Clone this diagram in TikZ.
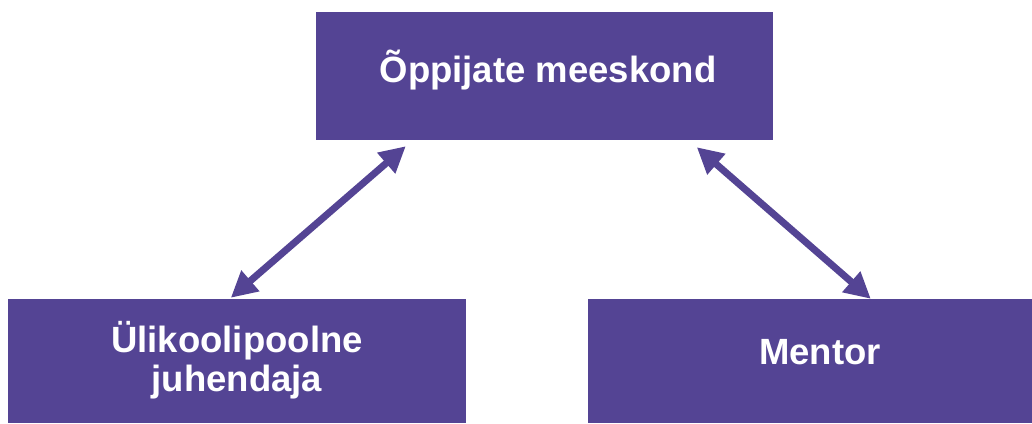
\documentclass[tikz,border=0pt]{standalone}
\usepackage{fontspec}
\setmainfont{Liberation Sans}
\usetikzlibrary{arrows.meta,calc}
\definecolor{boxpurple}{HTML}{544494}
\begin{document}
\begin{tikzpicture}[x=1pt,y=-1pt,
  box/.style={fill=boxpurple,draw=none,inner sep=0pt,text=white,align=center,
    font=\fontsize{36.5}{39}\selectfont\bfseries},
  link/.style={draw=boxpurple,line width=7pt,{Triangle[length=26pt,width=26pt]}-{Triangle[length=26pt,width=26pt]}}]
\useasboundingbox (0,0) rectangle (1032,423);
\node[box,minimum width=457pt,minimum height=128pt] (top) at (544.5,76) {};
\node[box,minimum width=458pt,minimum height=124pt] (left) at (237,361) {};
\node[box,minimum width=444pt,minimum height=124pt] (right) at (810,361) {};
\node[box,fill=none] (toptext) at (548,70) {Õppijate meeskond};
\node[box,fill=none] (lefttext) at (237,360) {Ülikoolipoolne\\juhendaja};
\node[box,fill=none] (righttext) at (820,352) {Mentor};
\coordinate (a1) at ($(top.south west)+(90,6)$);
\coordinate (a2) at ($(left.north west)+(223,-1)$);
\coordinate (b1) at ($(top.south west)+(381,7)$);
\coordinate (b2) at ($(right.north west)+(283,0)$);
\draw[link] (a1) -- (a2);
\draw[link] (b1) -- (b2);
\end{tikzpicture}
\end{document}
